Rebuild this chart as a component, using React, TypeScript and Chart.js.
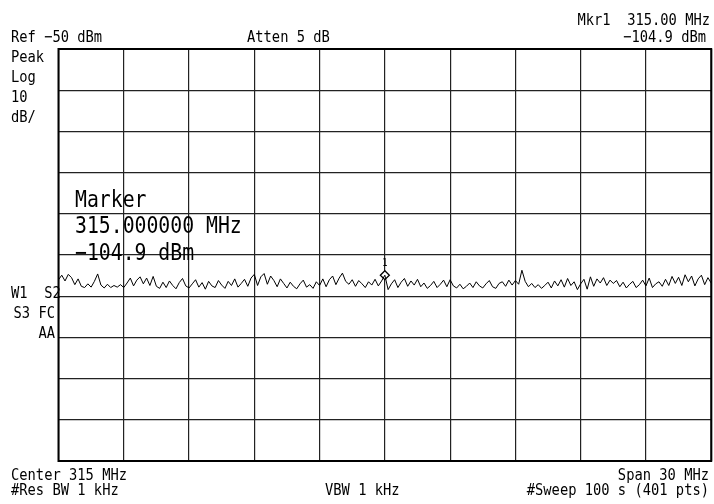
import React, { useEffect, useRef } from "react";
import { Chart, registerables } from "chart.js";

Chart.register(...registerables);

// Frequency axis: 300 .. 330 MHz (center 315, span 30), 201 points
const startMHz = 300;
const stopMHz = 330;
const refLevel = -50;
const bottomLevel = -150;
const markerFreq = 315;
const markerLevel = -104.9;

// Trace amplitudes in dBm
const trace: number[] = [
  -106.0, -104.9, -106.3, -104.7, -105.5, -107.2, -105.8, -107.6, -107.9, -107.0,
  -107.8, -106.4, -104.6, -107.3, -108.0, -107.1, -107.9, -107.4, -107.8, -107.2,
  -107.9, -106.8, -105.6, -107.5, -106.1, -105.3, -107.0, -105.6, -107.4, -105.2,
  -107.6, -108.1, -106.6, -107.9, -106.3, -107.4, -108.2, -106.7, -105.7, -107.5,
  -108.0, -107.0, -106.0, -107.8, -106.7, -108.3, -106.4, -107.5, -107.9, -106.2,
  -107.3, -108.1, -106.4, -107.4, -105.8, -107.8, -106.9, -105.9, -107.6, -105.6,
  -104.7, -107.4, -105.3, -104.5, -107.1, -105.1, -106.2, -107.7, -105.8, -106.9,
  -108.0, -106.6, -107.6, -108.2, -107.0, -106.1, -107.8, -107.2, -108.1, -106.5,
  -107.4, -105.8, -107.7, -106.0, -105.1, -107.2, -105.6, -104.4, -106.4, -107.1,
  -106.0, -107.6, -106.2, -107.0, -107.9, -106.5, -107.3, -105.9, -107.5, -106.3,
  -104.9,
  -108.4, -107.0, -106.0, -107.9, -106.6, -105.7, -107.6, -106.3, -107.3,
  -105.9, -107.7, -106.8, -108.1, -107.4, -106.4, -107.9, -107.1, -106.1, -107.7,
  -106.0, -107.5, -108.0, -107.1, -108.2, -107.6, -106.8, -107.9, -106.5, -107.5,
  -108.0, -107.0, -106.2, -107.7, -108.1, -106.9, -106.5, -107.6, -106.1, -107.3,
  -106.2, -107.1, -103.7, -106.4, -107.7, -106.9, -107.9, -107.2, -108.1, -107.4,
  -106.6, -108.0, -106.3, -107.5, -106.0, -107.8, -105.7, -107.4, -106.5, -108.4,
  -107.0, -105.9, -108.3, -105.3, -107.6, -105.8, -106.8, -105.5, -107.4, -106.1,
  -106.9, -106.2, -107.7, -106.6, -108.0, -107.1, -106.4, -107.9, -107.2, -106.1,
  -107.5, -105.6, -107.9, -107.0, -106.5, -107.6, -105.9, -107.4, -105.2, -106.9,
  -105.4, -107.4, -104.8, -106.5, -105.1, -107.5, -105.8, -104.9, -107.2, -105.5,
  -106.8,
];

// Annotation texts
const topLeftText = ["Ref \u221250 dBm", "Atten 5 dB"];
const topRightText = ["Mkr1  315.00 MHz", "\u2212104.9 dBm"];
const leftColumnTop = ["Peak", "Log", "10", "dB/"];
const leftColumnMid = ["W1  S2", "S3 FC", "AA"];
const bottomLeftText = ["Center 315 MHz", "#Res BW 1 kHz"];
const bottomMidText = ["VBW 1 kHz"];
const bottomRightText = ["Span 30 MHz", "#Sweep 100 s (401 pts)"];
const markerText = ["Marker", "315.000000 MHz", "\u2212104.9 dBm"];
const markerLabel = "1";

const FONT = '"DejaVu Sans Mono", "Liberation Mono", monospace';

function drawText(
  ctx: CanvasRenderingContext2D,
  s: string,
  x: number,
  y: number,
  size: number,
  align: CanvasTextAlign = "left"
) {
  ctx.save();
  ctx.translate(x, y);
  ctx.scale(0.86, 1);
  ctx.font = `${size}px ${FONT}`;
  ctx.textAlign = align;
  ctx.textBaseline = "alphabetic";
  ctx.fillStyle = "#000";
  ctx.fillText(s, 0, 0);
  ctx.restore();
}

const annotPlugin = {
  id: "saAnnot",
  afterDraw(chart: any) {
    const ctx: CanvasRenderingContext2D = chart.ctx;
    const a = chart.chartArea;
    ctx.save();
    ctx.strokeStyle = "#000";
    ctx.lineWidth = 2;
    ctx.strokeRect(a.left, a.top, a.right - a.left, a.bottom - a.top);
    ctx.restore();

    drawText(ctx, topLeftText[0], 11, 42, 16);
    drawText(ctx, topLeftText[1], 247, 42, 16);
    drawText(ctx, topRightText[0], 710, 25, 16, "right");
    drawText(ctx, topRightText[1], 706, 42, 16, "right");

    leftColumnTop.forEach((s, i) => drawText(ctx, s, 11, 62 + i * 20, 16));
    drawText(ctx, leftColumnMid[0], 11, 298, 16);
    drawText(ctx, leftColumnMid[1], 55, 318, 16, "right");
    drawText(ctx, leftColumnMid[2], 55, 338, 16, "right");

    drawText(ctx, bottomLeftText[0], 11, 480, 16);
    drawText(ctx, bottomLeftText[1], 11, 495, 16);
    drawText(ctx, bottomMidText[0], 325, 495, 16);
    drawText(ctx, bottomRightText[0], 709, 480, 16, "right");
    drawText(ctx, bottomRightText[1], 709, 495, 16, "right");

    drawText(ctx, markerText[0], 75, 207, 23);
    drawText(ctx, markerText[1], 75, 233, 23);
    drawText(ctx, markerText[2], 75, 260, 23);

    const xs = chart.scales.x;
    const ys = chart.scales.y;
    const mx = xs.getPixelForValue(markerFreq);
    const my = ys.getPixelForValue(markerLevel);
    drawText(ctx, markerLabel, mx, my - 9, 10, "center");
  },
};

export default function App() {
  const ref = useRef<HTMLCanvasElement | null>(null);

  useEffect(() => {
    if (!ref.current) return;
    const n = trace.length;
    const pts = trace.map((v, i) => ({
      x: startMHz + ((stopMHz - startMHz) * i) / (n - 1),
      y: v,
    }));
    const chart = new Chart(ref.current, {
      type: "line",
      data: {
        datasets: [
          {
            data: pts,
            borderColor: "#000",
            borderWidth: 1,
            pointRadius: 0,
            tension: 0,
          },
          {
            data: [{ x: markerFreq, y: markerLevel }],
            showLine: false,
            pointStyle: "rectRot",
            pointRadius: 4.5,
            backgroundColor: "#fff",
            borderColor: "#000",
            borderWidth: 1.3,
          },
        ],
      },
      options: {
        animation: false,
        responsive: false,
        devicePixelRatio: 1,
        layout: { padding: { left: 58.5, top: 49, right: 0, bottom: 46 } },
        plugins: {
          legend: { display: false },
          tooltip: { enabled: false },
          title: { display: false },
        },
        scales: {
          x: {
            type: "linear",
            min: startMHz,
            max: stopMHz,
            ticks: { display: false, stepSize: 3 },
            grid: { color: "#222", lineWidth: 1.2, drawTicks: false },
            border: { display: false },
          },
          y: {
            type: "linear",
            min: bottomLevel,
            max: refLevel,
            ticks: { display: false, stepSize: 10 },
            grid: { color: "#222", lineWidth: 1.2, drawTicks: false },
            border: { display: false },
          },
        },
      },
      plugins: [annotPlugin],
    });
    return () => chart.destroy();
  }, []);

  return (
    <div
      style={{
        position: "fixed",
        left: 0,
        top: 0,
        width: 714,
        height: 504,
        overflow: "hidden",
        background: "#fff",
      }}
    >
      <canvas ref={ref} width={717} height={507} style={{ display: "block" }} />
    </div>
  );
}
